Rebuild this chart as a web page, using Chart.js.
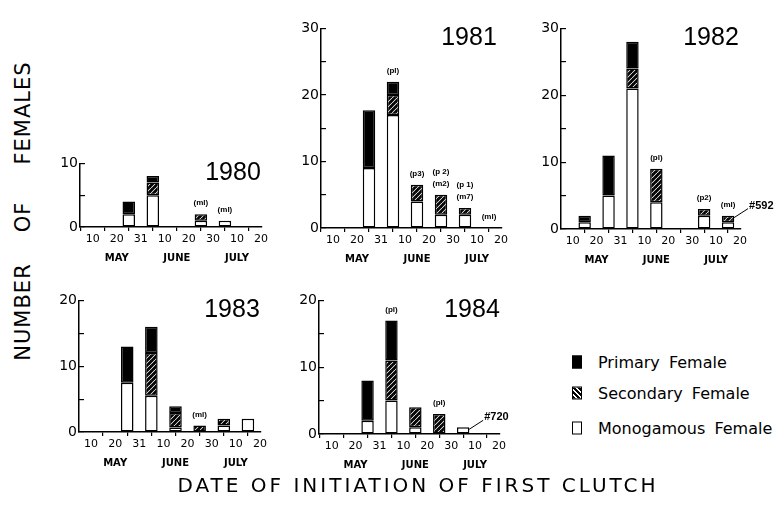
<!DOCTYPE html>
<html>
<head>
<meta charset="utf-8">
<script src="https://cdn.jsdelivr.net/npm/chart.js@4.4.0/dist/chart.umd.min.js"></script>
<style>
  html, body { margin: 0; padding: 0; background: #fff; }
  #fig { position: relative; width: 775px; height: 525px; overflow: hidden;
         font-family: "DejaVu Sans", sans-serif; color: #000; }
  #fig canvas { position: absolute; }
  .yr { position: absolute; font-family: "Liberation Sans", sans-serif; font-size: 25px;
        transform: translate(-50%, -50%); white-space: nowrap; }
  .vword { position: absolute; font-size: 21px; letter-spacing: 1px; white-space: nowrap;
           transform: translate(-50%, -50%) rotate(-90deg); }
  #xtitle { position: absolute; left: 418px; top: 485px; font-size: 20px; letter-spacing: 3px;
            transform: translate(-50%, -50%); white-space: nowrap; }
  .lg { position: absolute; left: 572px; font-size: 16px; word-spacing: 4px; white-space: nowrap;
        transform: translateY(-50%); display: flex; align-items: center; }
  .sw { display: inline-block; width: 8px; height: 11px; border: 1.5px solid #000; margin-right: 16px; }
  .sw.prim { background: #000; }
  .sw.sec { background: repeating-linear-gradient(45deg, #000 0 2px, #fff 2px 3.5px); }
  .sw.mono { background: #fff; }
</style>
</head>
<body>
<div id="fig"></div>
<script>
// 10-day periods of first-clutch initiation (bars sit between the day ticks)
const periods = ['May 10-20', 'May 20-31', 'May 31-Jun 10', 'Jun 10-20', 'Jun 20-30', 'Jun 30-Jul 10', 'Jul 10-20'];
const dayTicks = ['10', '20', '31', '10', '20', '30', '10', '20'];
const months = ['MAY', 'JUNE', 'JULY'];
const monthAt = [1, 3.5, 6];

const years = ['1980', '1981', '1982', '1983', '1984'];
const yMax = [10, 30, 30, 20, 20];

// monogamous (bottom), secondary (middle), primary (top)
const mono1980 = [0, 2, 5, 0, 1, 1, 0];
const sec1980  = [0, 0, 2, 0, 1, 0, 0];
const prim1980 = [0, 2, 1, 0, 0, 0, 0];
const note1980 = ['', '', '', '', '(ml)', '(ml)', ''];
const tag1980  = ['', '', '', '', '', '', ''];

const mono1981 = [0, 9, 17, 4, 2, 2, 0];
const sec1981  = [0, 0, 3, 2.5, 3, 1, 0];
const prim1981 = [0, 8.7, 2, 0, 0, 0, 0];
const note1981 = ['', '', '(pl)', '(p3)', '(p 2)\n(m2)', '(p 1)\n(m7)', '(ml)'];
const tag1981  = ['', '', '', '', '', '', ''];

const mono1982 = [1, 5, 21, 4, 0, 2, 1];
const sec1982  = [0, 0, 3, 5, 0, 1, 1];
const prim1982 = [1, 6, 4, 0, 0, 0, 0];
const note1982 = ['', '', '', '(pl)', '', '(p2)', '(ml)'];
const tag1982  = ['', '', '', '', '', '', '#592'];

const mono1983 = [0, 7.5, 5.5, 0.7, 0, 1, 2];
const sec1983  = [0, 0, 6.5, 2.2, 1, 1, 0];
const prim1983 = [0, 5.5, 4, 1, 0, 0, 0];
const note1983 = ['', '', '', '', '(ml)', '', ''];
const tag1983  = ['', '', '', '', '', '', ''];

const mono1984 = [0, 2, 5, 1, 0, 1, 0];
const sec1984  = [0, 0, 6, 3, 3, 0, 0];
const prim1984 = [0, 6, 6, 0, 0, 0, 0];
const note1984 = ['', '', '(pl)', '', '(pl)', '', ''];
const tag1984  = ['', '', '', '', '', '#720', ''];

const monoAll = [mono1980, mono1981, mono1982, mono1983, mono1984];
const secAll  = [sec1980, sec1981, sec1982, sec1983, sec1984];
const primAll = [prim1980, prim1981, prim1982, prim1983, prim1984];
const noteAll = [note1980, note1981, note1982, note1983, note1984];
const tagAll  = [tag1980, tag1981, tag1982, tag1983, tag1984];

// panel frames in page pixels: y-axis x, top of y range, baseline, first and last day tick
const frames = [
  { l: 80,  t: 160, b: 227, x0: 92.7,  x7: 261, yrX: 233, yrY: 171 },
  { l: 321, t: 25,  b: 228, x0: 333,   x7: 501, yrX: 469, yrY: 36 },
  { l: 561, t: 25,  b: 229, x0: 572.7, x7: 740, yrX: 711, yrY: 36 },
  { l: 79,  t: 297, b: 432, x0: 91,    x7: 260, yrX: 232, yrY: 308 },
  { l: 319, t: 297, b: 434, x0: 331.7, x7: 499, yrX: 472, yrY: 308 }
];

const fig = document.getElementById('fig');
const Y_AXIS_W = 44, PAD_T = 12, X_AXIS_H = 40, PAD_R = 40;

function makeHatch() {
  const c = document.createElement('canvas');
  c.width = 5; c.height = 5;
  const g = c.getContext('2d');
  g.fillStyle = '#fff';
  g.fillRect(0, 0, 5, 5);
  g.strokeStyle = '#000';
  g.lineWidth = 2;
  g.beginPath();
  g.moveTo(-1, 4); g.lineTo(4, -1);
  g.moveTo(1, 6); g.lineTo(6, 1);
  g.moveTo(-4, 4); g.lineTo(1, -1);
  g.moveTo(4, 6); g.lineTo(9, 1);
  g.stroke();
  return g.createPattern(c, 'repeat');
}
const hatch = makeHatch();

// notes above bars, #-tags with leader lines, month names under the day ticks
const extrasPlugin = {
  id: 'extras',
  afterDatasetsDraw(chart, args, opts) {
    const { ctx } = chart;
    const x = chart.scales.x, y = chart.scales.y;
    ctx.save();
    ctx.fillStyle = '#000';
    ctx.strokeStyle = '#000';
    ctx.textAlign = 'center';
    ctx.textBaseline = 'middle';
    ctx.font = 'bold 8px "Liberation Sans", sans-serif';
    opts.notes.forEach((n, i) => {
      if (!n) return;
      const top = y.getPixelForValue(opts.totals[i]);
      const cx = x.getPixelForValue(i + 0.5);
      n.split('\n').reverse().forEach((line, k) => ctx.fillText(line, cx, top - 11 - 12 * k));
    });
    ctx.font = 'bold 11px "Liberation Sans", sans-serif';
    ctx.textAlign = 'left';
    ctx.lineWidth = 1;
    opts.tags.forEach((t, i) => {
      if (!t) return;
      const sx = x.getPixelForValue(i + 0.5) + 6;
      const sy = y.getPixelForValue(opts.totals[i]) + 2;
      ctx.beginPath();
      ctx.moveTo(sx, sy);
      ctx.lineTo(sx + 14, sy - 9);
      ctx.stroke();
      ctx.fillText(t, sx + 15, sy - 12);
    });
    ctx.font = 'bold 10px "DejaVu Sans", sans-serif';
    ctx.textAlign = 'center';
    months.forEach((m, k) => ctx.fillText(m, x.getPixelForValue(monthAt[k]), y.bottom + 31));
    ctx.restore();
  }
};

years.forEach((yr, p) => {
  const f = frames[p];
  const dx = (f.x7 - f.x0) / 7;
  const r = f.x7 + 1;
  const canvas = document.createElement('canvas');
  canvas.width = Y_AXIS_W + (r - f.l) + PAD_R;
  canvas.height = PAD_T + (f.b - f.t) + X_AXIS_H + 2;
  canvas.style.left = (f.l - Y_AXIS_W) + 'px';
  canvas.style.top = (f.t - PAD_T) + 'px';
  fig.appendChild(canvas);

  const pts = arr => arr.map((v, i) => ({ x: i + 0.5, y: v }));
  const totals = periods.map((_, i) => monoAll[p][i] + secAll[p][i] + primAll[p][i]);
  const barStyle = { borderColor: '#000', borderWidth: 1.5, borderSkipped: false,
                     barPercentage: 0.52, categoryPercentage: 1 };

  new Chart(canvas.getContext('2d'), {
    type: 'bar',
    data: {
      datasets: [
        Object.assign({ label: 'Monogamous Female', data: pts(monoAll[p]), backgroundColor: '#fff' }, barStyle),
        Object.assign({ label: 'Secondary Female', data: pts(secAll[p]), backgroundColor: hatch }, barStyle),
        Object.assign({ label: 'Primary Female', data: pts(primAll[p]), backgroundColor: '#000' }, barStyle)
      ]
    },
    options: {
      responsive: false,
      animation: false,
      events: [],
      layout: { padding: { top: PAD_T, right: PAD_R, left: 0, bottom: 2 } },
      plugins: {
        legend: { display: false },
        tooltip: { enabled: false },
        extras: { notes: noteAll[p], tags: tagAll[p], totals: totals }
      },
      scales: {
        x: {
          type: 'linear',
          stacked: true,
          offset: false,
          min: -(f.x0 - f.l) / dx,
          max: 7 + (r - f.x7) / dx,
          afterBuildTicks: axis => { axis.ticks = dayTicks.map((_, i) => ({ value: i })); },
          afterFit: axis => { axis.height = X_AXIS_H; },
          grid: { drawOnChartArea: false, drawTicks: true, tickLength: 4, color: '#000', lineWidth: 1.2 },
          border: { display: true, color: '#000', width: 1.5 },
          ticks: {
            autoSkip: false, maxRotation: 0, padding: 2, color: '#000',
            font: { family: 'DejaVu Sans', size: 11 },
            callback: (v, i) => dayTicks[i]
          }
        },
        y: {
          stacked: true,
          min: 0,
          max: yMax[p],
          afterFit: axis => { axis.width = Y_AXIS_W; },
          grid: { drawOnChartArea: false, drawTicks: true, tickLength: -5, color: '#000', lineWidth: 1.2 },
          border: { display: true, color: '#000', width: 1.5 },
          ticks: {
            stepSize: 5, padding: 7, color: '#000',
            font: { family: 'DejaVu Sans', size: 14 },
            callback: v => (v % 10 === 0 ? v : '')
          }
        }
      }
    },
    plugins: [extrasPlugin]
  });

  const t = document.createElement('div');
  t.className = 'yr';
  t.style.left = f.yrX + 'px';
  t.style.top = f.yrY + 'px';
  t.textContent = yr;
  fig.appendChild(t);
});

// axis titles
const vWords = ['FEMALES', 'OF', 'NUMBER'];
const vWordY = [113, 217, 312];
vWords.forEach((w, k) => {
  const d = document.createElement('div');
  d.className = 'vword';
  d.style.left = '23px';
  d.style.top = vWordY[k] + 'px';
  d.textContent = w;
  fig.appendChild(d);
});
const xt = document.createElement('div');
xt.id = 'xtitle';
xt.textContent = 'DATE OF INITIATION OF FIRST CLUTCH';
fig.appendChild(xt);

// legend
const legendItems = [['prim', 'Primary Female', 362], ['sec', 'Secondary Female', 393], ['mono', 'Monogamous Female', 428]];
legendItems.forEach(([cls, txt, y]) => {
  const d = document.createElement('div');
  d.className = 'lg';
  d.style.top = y + 'px';
  d.innerHTML = '<span class="sw ' + cls + '"></span>' + txt;
  fig.appendChild(d);
});
</script>
</body>
</html>
